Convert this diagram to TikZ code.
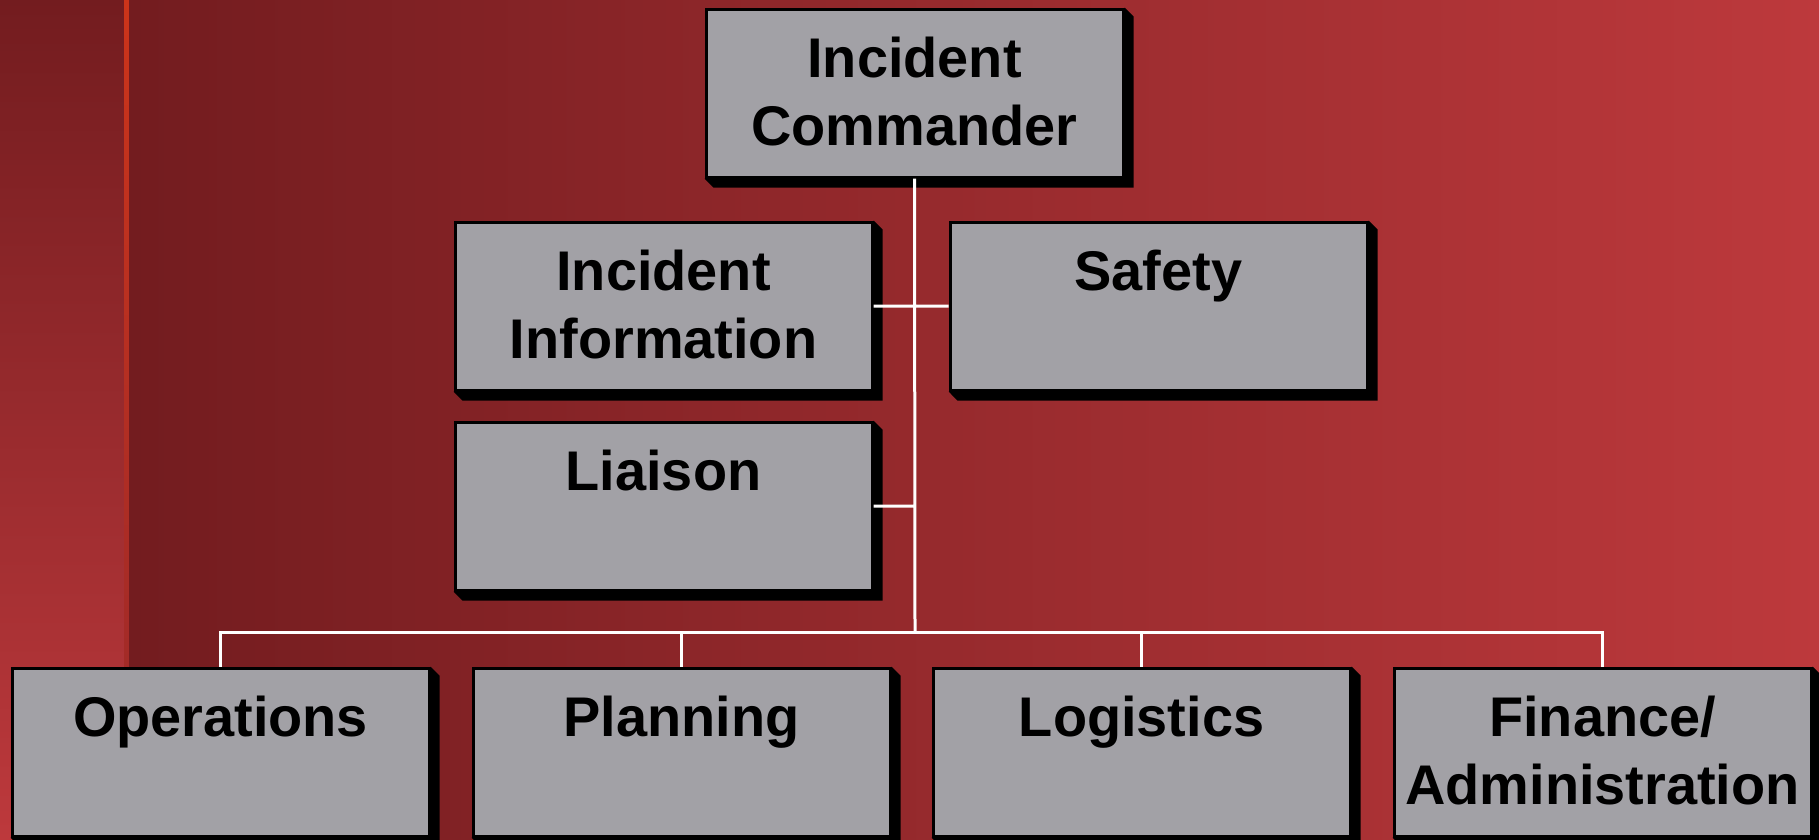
\documentclass[tikz,border=0pt]{standalone}
\usepackage{fontspec}
\setmainfont{Liberation Sans}
\usepackage{tikz}
\usetikzlibrary{calc}
\definecolor{boxgrey}{RGB}{162,161,166}
\definecolor{bgdark}{RGB}{115,28,31}
\definecolor{bglight}{RGB}{189,57,60}
\definecolor{stripetop}{RGB}{204,52,26}
\definecolor{stripebot}{RGB}{152,40,43}
\tikzset{ ibox/.style = {draw, line width=0.03cm, fill=boxgrey, inner sep=0pt, text width=4.17cm, align=center,
                         text height=0.685cm, text depth=0.995cm, font=\fontsize{15.9}{19.35}\selectfont\bfseries},
          link/.style = {draw=white, line width=0.03cm} }

\begin{document}
\begin{tikzpicture}
  \useasboundingbox (0,0) rectangle (18.19,-8.39);
  \shade[top color=bgdark, bottom color=bglight] (0,0) rectangle (1.24,-8.39);
  \shade[top color=stripetop, bottom color=stripebot] (1.24,0) rectangle (1.29,-8.39);
  \shade[left color=bgdark, right color=bglight] (1.29,0) rectangle (18.19,-8.39);

  \path (9.145,-0.93) node[ibox] (ic) {Incident\\Commander}
      ++(-2.51,-2.13) node[ibox] (info) {Incident\\Information}
      ++(4.95,0) node[ibox] (safe) {Safety}
      ++(-4.95,-2.0) node[ibox] (liai) {Liaison};
  \path (2.205,-7.52) node[ibox] (ops) {Operations}
      ++(4.61,0) node[ibox] (plan) {Planning}
      ++(4.60,0) node[ibox] (logi) {Logistics}
      ++(4.61,0) node[ibox] (fin) {Finance/\\Administration};

  \foreach \b in {ic, info, safe, liai, ops, plan, logi, fin}
    \fill (\b.north east) -- ++(0.09,-0.09) -- ($(\b.south east)+(0.09,-0.09)$) -- ($(\b.south west)+(0.09,-0.09)$)
      -- (\b.south west) -- (\b.south east) -- cycle;

  \coordinate (bus) at (9.15,-6.32);
  \draw[link] (ic.south) -- (bus) (info.east) -- (safe.west) (liai.east) -- (liai.east -| bus);
  \draw[link] (ops.north) -- (ops.north |- bus) -- (fin.north |- bus) -- (fin.north)
    (plan.north) -- (plan.north |- bus) (logi.north) -- (logi.north |- bus);
\end{tikzpicture}
\end{document}
